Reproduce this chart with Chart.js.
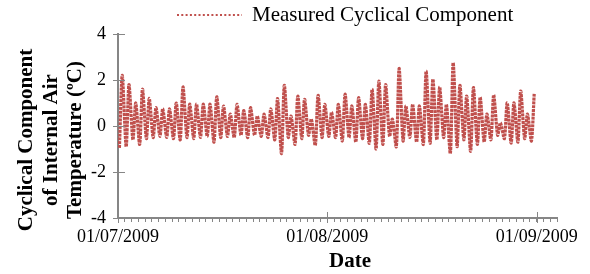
<!DOCTYPE html>
<html><head><meta charset="utf-8">
<script src="https://cdn.jsdelivr.net/npm/chart.js@4.4.0/dist/chart.umd.min.js"></script>
<style>html,body{margin:0;padding:0;background:#fff}#wrap{width:590px;height:274px}</style>
</head><body><div id="wrap"><canvas id="c" width="590" height="274"></canvas></div>
<script>
// Daily extremes of the measured cyclical component (ºC), 1 July 2009 .. 31 Aug 2009
const dayMax = [2.2,1.8,1.0,1.6,1.2,0.8,0.75,0.75,1.0,1.7,
  0.95,0.95,0.95,0.95,1.27,0.87,0.52,0.94,0.67,0.8,
  0.43,0.52,0.74,1.19,1.77,0.43,1.3,1.16,0.3,1.33,
  0.94,0.6,0.94,1.38,0.87,1.23,0.94,1.6,1.95,1.8,
  0.3,2.5,0.87,0.94,0.87,2.39,2.03,1.7,0.94,2.75,
  1.77,1.3,1.67,1.25,0.52,1.35,0.14,1.01,1.01,1.52,
  0.52,1.4];
const dayMin = [-0.95,-0.9,-0.6,-0.8,-0.55,-0.5,-0.45,-0.5,-0.55,-0.6,
  -0.5,-0.55,-0.5,-0.45,-0.7,-0.5,-0.45,-0.5,-0.4,-0.5,
  -0.4,-0.45,-0.5,-0.6,-1.2,-0.5,-0.8,-0.55,-0.4,-0.85,
  -0.5,-0.45,-0.5,-0.65,-0.5,-0.7,-0.55,-0.75,-1.0,-0.8,
  -0.45,-0.9,-0.65,-0.5,-0.7,-0.8,-0.75,-0.6,-0.5,-1.2,
  -0.9,-0.6,-1.1,-0.8,-0.7,-0.6,-0.4,-0.55,-0.75,-0.7,
  -0.55,-0.65];
const troughHour = 5;   // hour of day of the minimum
const peakHour = 15;    // hour of day of the maximum
const xTickDays = [0,31,62];
const xTickLabels = ['01/07/2009','01/08/2009','01/09/2009'];
const yTicks = [-4,-3,-2,-1,0,1,2,3,4];
const seriesName = 'Measured Cyclical Component';
const yTitle = ['Cyclical Component','of Internal Air','Temperature (ºC)'];
const xTitle = 'Date';

const points = [];
dayMax.forEach((mx, d) => {
  points.push({x: d + troughHour/24, y: dayMin[d]});
  points.push({x: d + peakHour/24, y: mx});
});

const AXIS = '#868686';
const RED = '#C0504D';
const SERIF = "'Liberation Serif','Times New Roman',serif";

const extras = {
  id: 'extras',
  afterDraw(chart) {
    const ctx = chart.ctx, ca = chart.chartArea;
    const xs = chart.scales.x, ys = chart.scales.y;
    ctx.save();
    ctx.strokeStyle = AXIS; ctx.lineWidth = 1;
    ctx.beginPath();
    yTicks.filter(v => v % 2 === 0).forEach(v => {
      const y = Math.round(ys.getPixelForValue(v)) + 0.5;
      ctx.moveTo(ca.left - 5, y); ctx.lineTo(ca.left + 7, y);
    });
    xTickDays.forEach(v => {
      const x = Math.round(xs.getPixelForValue(v)) + 0.5;
      ctx.moveTo(x, ca.bottom - 6); ctx.lineTo(x, ca.bottom + 5);
    });
    ctx.stroke();
    // legend
    const ds = chart.data.datasets[0];
    ctx.strokeStyle = ds.borderColor; ctx.lineWidth = 2;
    ctx.setLineDash([2, 2.3]);
    ctx.beginPath(); ctx.moveTo(177, 15); ctx.lineTo(242, 15); ctx.stroke();
    ctx.setLineDash([]);
    ctx.fillStyle = '#000';
    ctx.font = "21px " + SERIF;
    ctx.textBaseline = 'middle'; ctx.textAlign = 'left';
    ctx.fillText(ds.label, 252, 15);
    // x title
    ctx.font = "bold 21px " + SERIF;
    ctx.textAlign = 'center';
    ctx.fillText(xTitle, 350, 262);
    // y title
    ctx.translate(0, 140);
    ctx.rotate(-Math.PI/2);
    ctx.textBaseline = 'alphabetic';
    const base = [32, 57, 81];
    yTitle.forEach((t, i) => ctx.fillText(t, 0, base[i]));
    ctx.restore();
  }
};

new Chart(document.getElementById('c'), {
  type: 'line',
  data: { datasets: [{
    label: seriesName,
    data: points,
    borderColor: RED,
    backgroundColor: RED,
    borderWidth: 3.2,
    borderDash: [3, 0.8],
    pointRadius: 0,
    tension: 0.25,
    fill: false
  }]},
  options: {
    responsive: false, animation: false, devicePixelRatio: 1,
    layout: { padding: { top: 34, right: 33, left: 0, bottom: 0 } },
    plugins: { legend: { display: false }, tooltip: { enabled: false } },
    scales: {
      x: {
        type: 'linear', min: 0, max: 65,
        afterBuildTicks: s => { const t = []; for (let i = 0; i <= 65; i++) t.push({value: i}); s.ticks = t; },
        afterFit: s => { s.height = 56; },
        ticks: {
          autoSkip: false, maxRotation: 0, minRotation: 0, padding: 4,
          color: '#000', font: { family: SERIF, size: 18 },
          callback: v => { const k = xTickDays.indexOf(v); return k >= 0 ? xTickLabels[k] : ''; }
        },
        grid: { drawOnChartArea: false, drawTicks: true, tickLength: 4, color: AXIS, lineWidth: 1 },
        border: { color: AXIS, width: 2 }
      },
      y: {
        min: -4, max: 4,
        afterBuildTicks: s => { s.ticks = yTicks.map(v => ({value: v})); },
        afterFit: s => { s.width = 118; },
        ticks: {
          padding: 8, color: '#000', font: { family: SERIF, size: 18 },
          callback: v => (v % 2 === 0 ? String(v) : '')
        },
        grid: { drawOnChartArea: false, drawTicks: true, tickLength: 4, color: AXIS, lineWidth: 1 },
        border: { color: AXIS, width: 2 }
      }
    }
  },
  plugins: [extras]
});
</script></body></html>
